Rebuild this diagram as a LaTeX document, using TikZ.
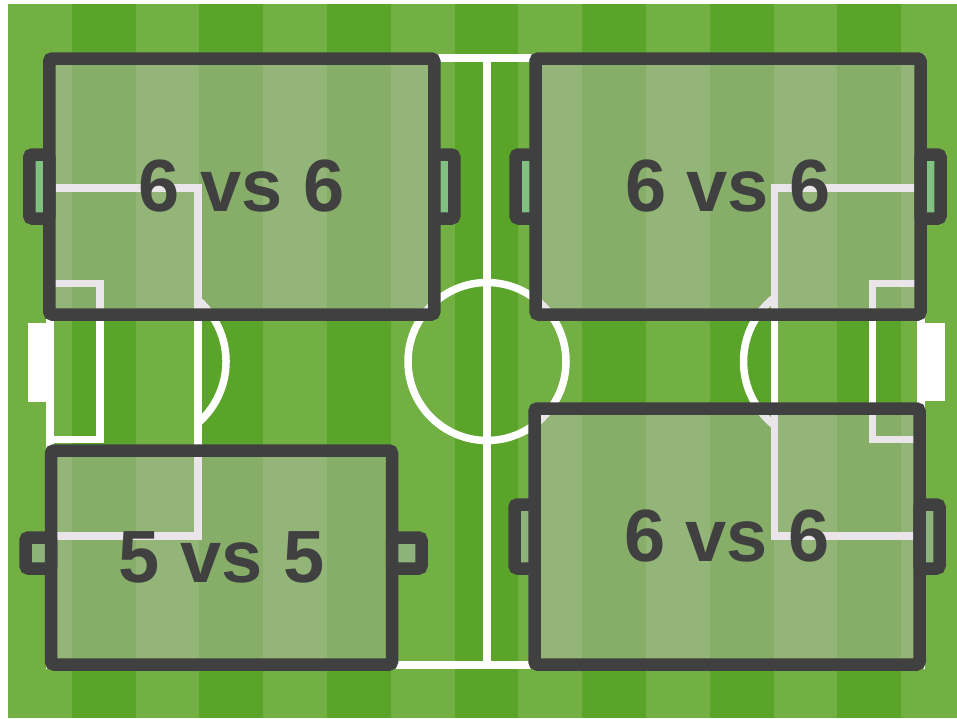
\documentclass[tikz,border=0pt]{standalone}
\usepackage{fontspec}
\usepackage{tikz}
\usetikzlibrary{positioning}
\newfontfamily\pitchfont{Liberation Sans}
\definecolor{grasslight}{HTML}{72B044}
\definecolor{grassdark}{HTML}{5BA42A}
\definecolor{boxgray}{HTML}{404040}
\definecolor{veil}{HTML}{C8BEC8}
\definecolor{netgreen}{HTML}{80C080}
\definecolor{netmuted}{HTML}{8DB37A}
\tikzset{
  chalk/.style={draw=white, line width=7.5pt},
  smallpitch/.style={
    rectangle, rounded corners=3pt, draw=boxgray, line width=12.5pt,
    fill=veil, fill opacity=0.4, text opacity=1, outer sep=0pt,
    minimum width=385pt, minimum height=256pt,
    text=boxgray, font=\pitchfont\bfseries\fontsize{74}{80}\selectfont
  },
  goalbox/.style={
    rectangle, rounded corners=3pt, draw=boxgray, line width=12.5pt,
    fill=#1, outer sep=0pt, inner sep=0pt,
    minimum width=20pt, minimum height=64pt
  },
  goalbox/.default=netgreen
}

\begin{document}
\begin{tikzpicture}[x=1pt, y=-1pt]
  \useasboundingbox (0,0) rectangle (957,718);
  \fill[white] (0,0) rectangle (957,718);
  \fill[grasslight] (8,4) rectangle (957,718);
  \foreach \i in {1,3,...,13}
    \fill[grassdark] ({8+63.8*\i},4) rectangle ({8+63.8*(\i+1)},718);

  % pitch markings
  \draw[chalk] (50,58) rectangle (921,665);
  \draw[chalk] (487,58) -- (487,665);
  \draw[chalk] (487,361.5) circle[radius=79];
  \draw[chalk] (50,188) rectangle (198,536);
  \draw[chalk] (921,188) rectangle (774.5,536);
  \draw[chalk] (50,283.5) rectangle (100,439.5);
  \draw[chalk] (921,283.5) rectangle (872.5,439.5);
  \draw[chalk] (198,300) arc[start angle=-49, end angle=49, radius=81.5];
  \draw[chalk] (774.5,297.5) arc[start angle=231.7, end angle=128.3, radius=81.5];
  \fill[white] (28,323) rectangle (50,402);
  \fill[white] (921,323) rectangle (945,401);

  \node[smallpitch] (nw) at (241.75,186.5) {6 vs 6};
  \node[smallpitch] (ne) at (728,186.5) {6 vs 6};
  \node[smallpitch, minimum width=341pt, minimum height=214pt] (sw) at (221.5,557.5) {5 vs 5};
  \node[smallpitch] (se) at (727,536.5) {6 vs 6};

  \foreach \b/\c in {nw/netgreen, ne/netgreen, se/netmuted}{
    \node[goalbox=\c, left=0pt of \b] (\b-goal-l) {};
    \node[goalbox=\c, right=0pt of \b] (\b-goal-r) {};
  }
  \node[goalbox=netmuted, minimum width=25.5pt, minimum height=31pt, left=0pt of sw, yshift=4.5pt] (sw-goal-l) {};
  \node[goalbox=netmuted, minimum width=29.5pt, minimum height=31pt, right=0pt of sw, yshift=4.5pt] (sw-goal-r) {};
\end{tikzpicture}
\end{document}
